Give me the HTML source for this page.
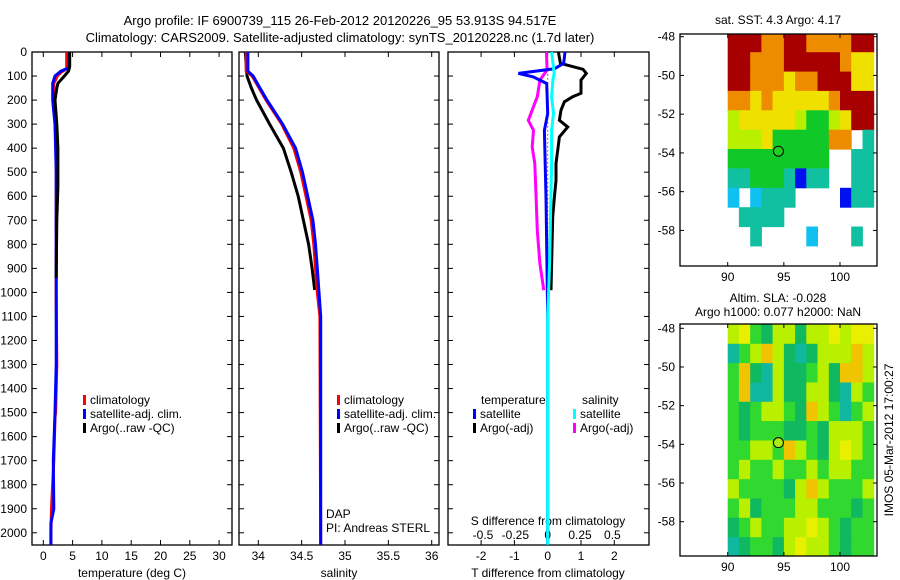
<!DOCTYPE html>
<html><head><meta charset="utf-8"><style>
body{margin:0;background:#fff;}
svg{display:block;font-family:"Liberation Sans",sans-serif;font-size:12px;}
</style></head><body>
<svg id="fig" width="900" height="580" viewBox="0 0 900 580">
<text x="340" y="25" text-anchor="middle" font-size="13">Argo profile: IF 6900739_115 26-Feb-2012 20120226_95 53.913S 94.517E</text>
<text x="340" y="42" text-anchor="middle" font-size="13">Climatology: CARS2009. Satellite-adjusted climatology: synTS_20120228.nc (1.7d later)</text>
<g id="g"></g>
</svg>
<script>
// ---- data ----
const depthTicks=[0,100,200,300,400,500,600,700,800,900,1000,1100,1200,1300,1400,1500,1600,1700,1800,1900,2000];
const tempTicks=[0,5,10,15,20,25,30];
const salTicks=[34,34.5,35,35.5,36];
const tdiffTicks=[-2,-1,0,1,2];
const sdiffTicks=[-0.5,-0.25,0,0.25,0.5];
const lonTicks=[90,95,100];
const latTicks=[-48,-50,-52,-54,-56,-58];

const tClimDepth=[0,70,85,100,130,200,300,400,500,1000,1300,1500,1520,1700,1900,2000,2050];
const tClimVal=[4.0,4.0,3.0,2.4,1.8,1.8,2.0,2.2,2.2,2.2,2.3,2.1,2.0,1.8,1.4,1.3,1.3];
const tSatDepth=[0,65,80,100,130,200,250,300,400,500,1000,1300,1500,1700,1900,1960,2050];
const tSatVal=[4.4,4.4,3.0,2.0,1.6,1.6,1.8,2.0,2.1,2.2,2.2,2.2,2.0,1.7,1.8,1.3,1.3];
const tArgoDepth=[0,60,80,100,130,150,200,300,400,500,560,700,940];
const tArgoVal=[4.5,4.5,4.3,3.6,2.5,2.3,2.0,2.3,2.5,2.5,2.5,2.3,2.2];

const sClimDepth=[0,80,100,150,200,300,400,500,600,700,800,900,1000,1100,2050];
const sClimVal=[33.86,33.86,33.93,34.01,34.09,34.27,34.41,34.49,34.55,34.61,34.64,34.66,34.68,34.71,34.72];
const sSatDepth=[0,80,100,150,200,300,400,500,600,700,800,900,1000,1100,2050];
const sSatVal=[33.88,33.88,33.94,34.02,34.10,34.28,34.43,34.51,34.57,34.63,34.66,34.68,34.70,34.72,34.72];
const sArgoDepth=[0,100,150,200,300,400,500,600,700,800,900,990];
const sArgoVal=[33.85,33.87,33.92,33.98,34.13,34.29,34.38,34.46,34.52,34.58,34.62,34.65];

const dTSatDepth=[0,47,70,89,103,131,256,326,603,1102,2050];
const dTSatVal=[0.52,0.48,0.2,-0.88,-0.44,-0.03,0,-0.1,-0.05,0,0];
const dTArgoDepth=[0,47,72,89,117,172,186,207,242,284,312,353,409,464,534,603,686,991];
const dTArgoVal=[0.32,0.38,1.06,1.16,1.0,1.0,0.75,0.5,0.4,0.35,0.6,0.35,0.3,0.25,0.25,0.2,0.15,0.1];
const dSSatDepth=[0,89,117,186,256,326,464,603,880,1102,2050];
const dSSatVal=[0.03,0.05,0.04,0.03,0.045,0.03,0.03,0.025,0.015,0.0,0.0];
const dSArgoDepth=[0,75,117,186,284,326,395,464,603,742,880,991];
const dSArgoVal=[-0.01,-0.005,-0.06,-0.08,-0.15,-0.11,-0.12,-0.1,-0.09,-0.08,-0.06,-0.03];

const sstRows=["RRROORROOOORR","RROOORRRRROYY","RROOOYOORRRYY","OOYOYYYYYORRR","LYYYYYLGGLYRR","LLLYGGGGGOO.T","GGGGGGGGG..TT","TTGGGTBTT..TT","C.CTTT....BTT",".TTTT........","..T....C...T.","............."];
const slaRows=["yYgGyyGyyYyYY","TgyoyGTGyyyoy","goGTyGGgyGooy","goTTyGGyyGTyg","gGgyygGoygTgy","gGgggGGgGyyyg","ggyygoygGyYyg","gyggyggygyygg","yggggGyoygggy","gyGgggyygggGg","GgyggyyYygGgg","TGggGyYyygGgg"];
const sstColors={R:"#a80000",O:"#ee8c00",Y:"#f0e000",L:"#b8f000",G:"#10c828",T:"#10c0a0",C:"#10c0f0",B:"#0010f0"};
const slaColors={g:"#30d830",G:"#10b860",T:"#10b8a0",y:"#b8f000",Y:"#e8f000",o:"#f0c400"};
const argoLon=94.517, argoLat=-53.913;

// ---- drawing ----
const NS="http://www.w3.org/2000/svg";
const G=document.getElementById('g');
function mk(tag,attrs,parent,text){const e=document.createElementNS(NS,tag);for(const k in attrs)e.setAttribute(k,attrs[k]);if(text!==undefined)e.textContent=text;(parent||G).appendChild(e);return e;}
const yD=d=>52+d*0.2404;
const xT=t=>43.3+t*5.86;
const xS=s=>258.3+(s-34)*86.7;
const xdT=t=>547.7+t*33.3;
const xdS=s=>547.7+s*129.4;
const mX=lon=>727.7+(lon-90)*11.23;
const m1Y=lat=>36.7+(-48-lat)*19.37;
const m2Y=lat=>328.3+(-48-lat)*19.34;

function box(x,y,w,h,name){
  const r=mk('rect',{x:x,y:y,width:w,height:h,fill:'none',stroke:'#000','stroke-width':1.3});
  
  
}
function line(dep,val,fx,color,name,w){
  const pts=dep.map((d,i)=>fx(val[i]).toFixed(1)+','+yD(d).toFixed(1)).join(' ');
  const p=mk('polyline',{points:pts,fill:'none',stroke:color,'stroke-width':w||3,'stroke-linejoin':'miter'});
  
  
}
function txt(x,y,s,anchor,name,size){
  const t=mk('text',{x:x,y:y,'text-anchor':anchor||'start','font-size':size||12},G,s);
  
  
  return t;
}
function tick(x1,y1,x2,y2){mk('line',{x1:x1,y1:y1,x2:x2,y2:y2,stroke:'#000','stroke-width':1});}

// panel 1
box(32,52,200,493,'temperature-panel');
box(239,52,200,493,'salinity-panel');
box(448,52,201,493,'difference-panel');
depthTicks.forEach(d=>{
  const y=yD(d);
  tick(32,y,37,y);tick(227,y,232,y);tick(239,y,244,y);tick(434,y,439,y);tick(448,y,453,y);tick(644,y,649,y);
  txt(27,y+4,String(d),'end','depth-tick-label');
});
tempTicks.forEach(t=>{const x=xT(t);tick(x,52,x,57);tick(x,540,x,545);txt(x,560,String(t),'middle','temperature-tick-label');});
salTicks.forEach(s=>{const x=xS(s);tick(x,52,x,57);tick(x,540,x,545);txt(x,560,String(s),'middle','salinity-tick-label');});
tdiffTicks.forEach(t=>{const x=xdT(t);tick(x,52,x,57);tick(x,540,x,545);txt(x,560,String(t),'middle','tdiff-tick-label');});
sdiffTicks.forEach(s=>{txt(xdS(s),539,String(s),'middle','sdiff-tick-label');});
txt(132,577,'temperature (deg C)','middle','temperature-axis-title');
txt(339,577,'salinity','middle','salinity-axis-title');
txt(548,577,'T difference from climatology','middle','tdiff-axis-title');
txt(548,525,'S difference from climatology','middle','sdiff-axis-title');

line(tClimDepth,tClimVal,xT,'#ff0000','temp-climatology-line');
line(tSatDepth,tSatVal,xT,'#0000ff','temp-satellite-line');
line(tArgoDepth,tArgoVal,xT,'#000','temp-argo-line');
line(sArgoDepth,sArgoVal,xS,'#000','sal-argo-line');
line(sClimDepth,sClimVal,xS,'#ff0000','sal-climatology-line');
line(sSatDepth,sSatVal,xS,'#0000ff','sal-satellite-line');

mk('line',{x1:xdT(0),y1:yD(60),x2:xdT(0),y2:yD(1450),stroke:'#000','stroke-width':1,'stroke-dasharray':'1,3'});
line(dTArgoDepth,dTArgoVal,xdT,'#000','tdiff-argo-line');
line(dSArgoDepth,dSArgoVal,xdS,'#ff00ff','sdiff-argo-line');
line(dTSatDepth,dTSatVal,xdT,'#0000ff','tdiff-satellite-line');
line(dSSatDepth,dSSatVal,xdS,'#00ffff','sdiff-satellite-line');

function legBar(x,y,c,label,name){
  mk('rect',{x:x,y:y-9,width:3,height:10,fill:c});
  txt(x+7,y,label,'start',name);
}
legBar(83,404,'#ff0000','climatology','legend-climatology');
legBar(83,418,'#0000ff','satellite-adj. clim.','legend-satellite');
legBar(83,432,'#000','Argo(..raw -QC)','legend-argo');
legBar(337,404,'#ff0000','climatology','legend2-climatology');
legBar(337,418,'#0000ff','satellite-adj. clim.','legend2-satellite');
legBar(337,432,'#000','Argo(..raw -QC)','legend2-argo');
txt(481,404,'temperature','start','legend-temperature-header');
txt(582,404,'salinity','start','legend-salinity-header');
legBar(473,418,'#0000ff','satellite','legend-tdiff-satellite');
legBar(473,432,'#000','Argo(-adj)','legend-tdiff-argo');
legBar(573,418,'#00ffff','satellite','legend-sdiff-satellite');
legBar(573,432,'#ff00ff','Argo(-adj)','legend-sdiff-argo');
txt(326,518,'DAP','start','dap-label');
txt(326,532,'PI: Andreas STERL','start','pi-label');

// maps
function drawMap(rows,colors,yf,top,bottom,name){
  const x0=680,x1=877;
  rows.forEach((row,r)=>{
    for(let c=0;c<row.length;c++){
      const col=colors[row[c]];
      if(!col)continue;
      const la=-47.8-r, lb=-48.8-r;
      const ya=Math.max(top,yf(la)), yb=Math.min(bottom,r==rows.length-1?bottom:yf(lb));
      const xa=mX(90+c), xb=Math.min(x1,mX(91+c));
      const cell=mk('rect',{x:xa.toFixed(1),y:ya.toFixed(1),width:(xb-xa+0.5).toFixed(1),height:(yb-ya+0.5).toFixed(1),fill:col});
      
      
    }
  });
  box(x0,top,x1-x0,bottom-top,name);
  lonTicks.forEach(l=>{const x=mX(l);tick(x,bottom,x,bottom-4);tick(x,top,x,top+4);txt(x,bottom+15,String(l),'middle',name+'-lon-label');});
  latTicks.forEach(l=>{const y=yf(l);tick(x0,y,x0+4,y);tick(x1,y,x1-4,y);txt(675,y+4,String(l),'end',name+'-lat-label');});
  const c=mk('circle',{cx:mX(argoLon),cy:yf(argoLat),r:5,fill:name==='sst-map'?'#20d020':'#a8ec10',stroke:'#000','stroke-width':1});
  
  
}
drawMap(sstRows,sstColors,m1Y,34,266,'sst-map');
drawMap(slaRows,slaColors,m2Y,324,556,'sla-map');
txt(778,24,'sat. SST: 4.3 Argo: 4.17','middle','sst-map-title');
txt(778,302,'Altim. SLA: -0.028','middle','sla-map-title');
txt(778,316,'Argo h1000: 0.077 h2000: NaN','middle','sla-map-subtitle');
const v=txt(0,0,'IMOS 05-Mar-2012 17:00:27','middle','imos-timestamp');
v.setAttribute('transform','translate(893,440) rotate(-90)');
</script>
</body></html>
